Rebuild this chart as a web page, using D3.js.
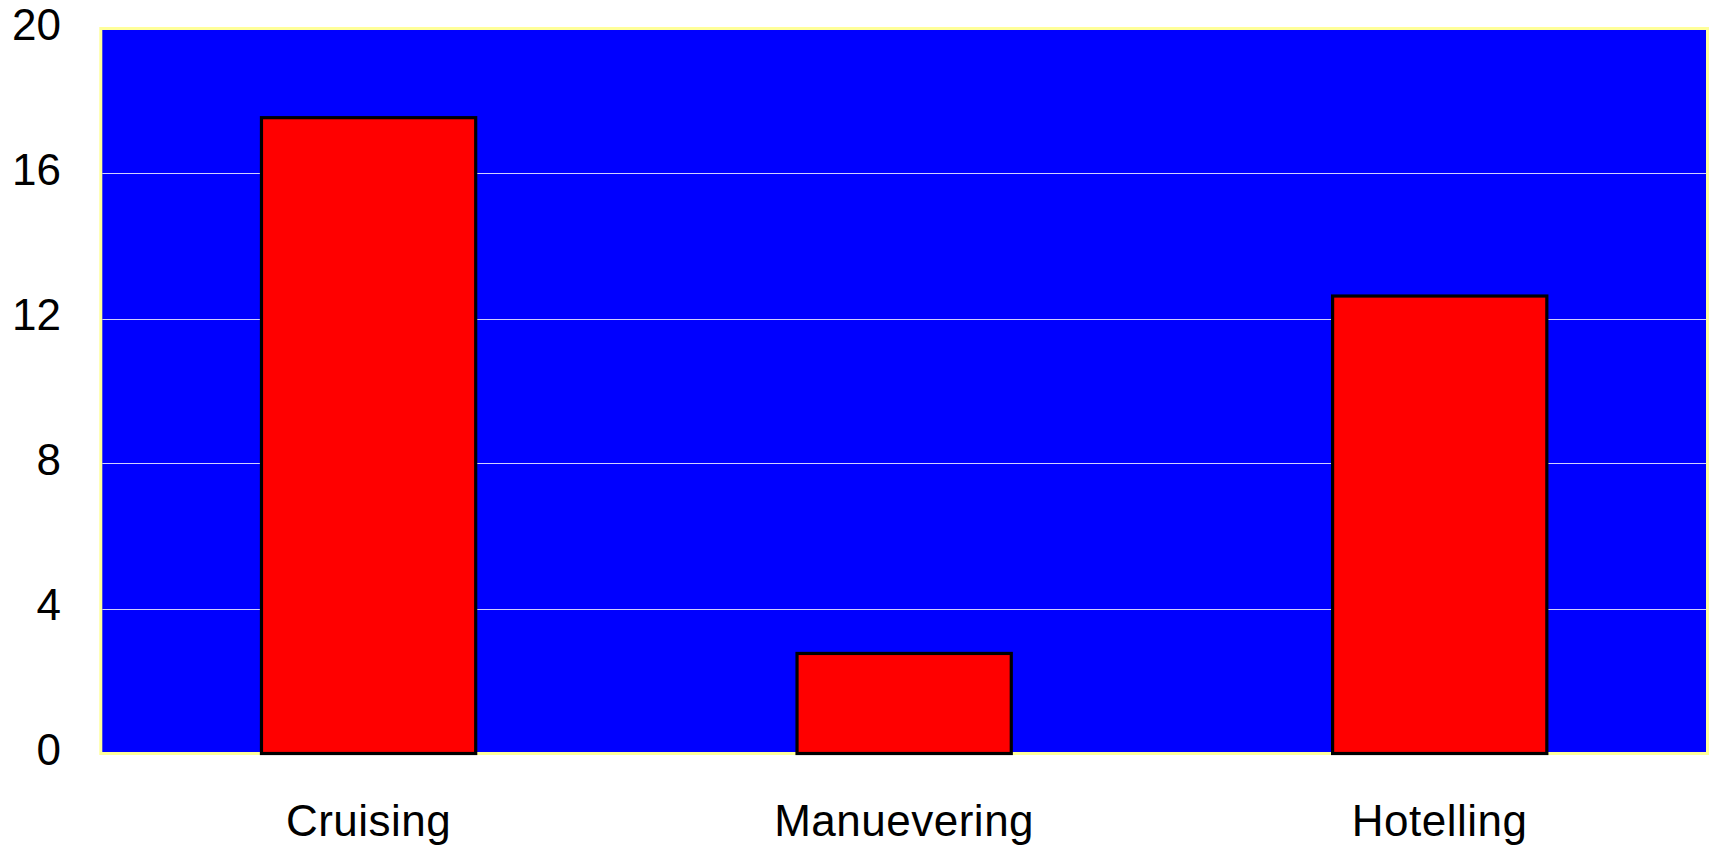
<!DOCTYPE html>
<html>
<head>
<meta charset="utf-8">
<script src="https://cdn.jsdelivr.net/npm/d3@7"></script>
<style>
  html, body { margin: 0; padding: 0; background: #fff; }
  svg { display: block; font-family: "Liberation Sans", Arial, sans-serif; }
</style>
</head>
<body>
<div id="chart"></div>
<script>
// data
const CATEGORIES = ["Cruising", "Manuevering", "Hotelling"];
const VALUES = [17.54, 2.76, 12.62];
const Y_TICKS = [0, 4, 8, 12, 16, 20];

const width = 1711;
const height = 845;
const plot = { left: 100.8, right: 1707.5, top: 28.5, bottom: 753.5 };

const svg = d3.select("#chart").append("svg")
  .attr("width", width)
  .attr("height", height);

const x = d3.scaleBand()
  .domain(CATEGORIES)
  .range([plot.left, plot.right])
  .paddingInner(0.6)
  .paddingOuter(0.3);

const y = d3.scaleLinear()
  .domain([0, 20])
  .range([plot.bottom, plot.top]);

// plot background with pale yellow frame
svg.append("rect")
  .attr("x", plot.left)
  .attr("y", plot.top)
  .attr("width", plot.right - plot.left)
  .attr("height", plot.bottom - plot.top)
  .attr("fill", "#0000ff")
  .attr("stroke", "#ffff99")
  .attr("stroke-width", 3);

// gridlines
svg.append("g")
  .selectAll("line")
  .data(Y_TICKS.filter(t => t > 0 && t < 20))
  .join("line")
  .attr("x1", plot.left + 1.5)
  .attr("x2", plot.right - 1.5)
  .attr("y1", d => Math.round(y(d)) + 0.5)
  .attr("y2", d => Math.round(y(d)) + 0.5)
  .attr("stroke", "#d0d0ff")
  .attr("stroke-width", 1);

// bars
svg.append("g")
  .selectAll("rect")
  .data(CATEGORIES.map((c, i) => ({ c, v: VALUES[i] })))
  .join("rect")
  .attr("x", d => x(d.c))
  .attr("y", d => y(d.v))
  .attr("width", x.bandwidth())
  .attr("height", d => y(0) - y(d.v))
  .attr("fill", "#ff0000")
  .attr("stroke", "#000")
  .attr("stroke-width", 3.2);

// y labels
svg.append("g")
  .selectAll("text")
  .data(Y_TICKS)
  .join("text")
  .attr("x", 61)
  .attr("y", d => y(d) + 11)
  .attr("text-anchor", "end")
  .attr("font-size", 44)
  .attr("fill", "#000")
  .text(d => d);

// x labels
svg.append("g")
  .selectAll("text")
  .data(CATEGORIES)
  .join("text")
  .attr("x", d => x(d) + x.bandwidth() / 2)
  .attr("y", 836)
  .attr("text-anchor", "middle")
  .attr("font-size", 44)
  .attr("letter-spacing", 0.5)
  .attr("fill", "#000")
  .text(d => d);
</script>
</body>
</html>
